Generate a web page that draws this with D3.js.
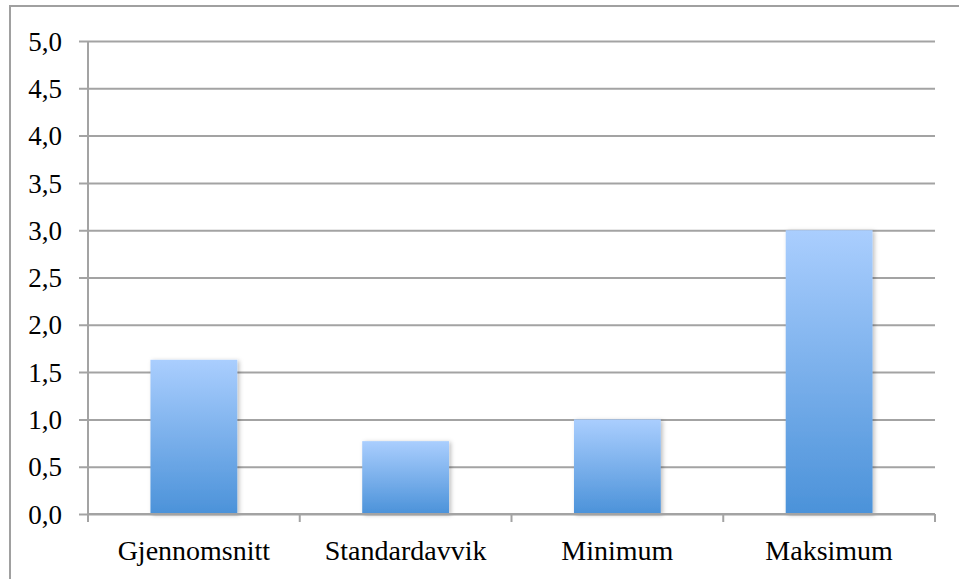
<!DOCTYPE html>
<html>
<head>
<meta charset="utf-8">
<script src="https://cdn.jsdelivr.net/npm/d3@7/dist/d3.min.js"></script>
<style>
  html, body { margin: 0; padding: 0; background: #fff; }
  svg { display: block; }
</style>
</head>
<body>
<svg id="chart" width="959" height="579"></svg>
<script>
// Summary statistics
const categories = ["Gjennomsnitt", "Standardavvik", "Minimum", "Maksimum"];
const values = [1.63, 0.77, 1.0, 3.0];
const yTicks = [0, 0.5, 1, 1.5, 2, 2.5, 3, 3.5, 4, 4.5, 5];

const W = 959, H = 579;
const plot = { left: 88, right: 935, top: 41, bottom: 514 };
const gridColor = "#a3a3a3";
const font = "'Liberation Serif', 'Times New Roman', serif";

const svg = d3.select("#chart");

// Outer frame
svg.append("rect")
  .attr("x", 10).attr("y", 6)
  .attr("width", W + 20).attr("height", H + 20)
  .attr("fill", "none").attr("stroke", "#a0a0a0").attr("stroke-width", 2);

const defs = svg.append("defs");
const grad = defs.append("linearGradient")
  .attr("id", "barGrad").attr("x1", 0).attr("y1", 0).attr("x2", 0).attr("y2", 1);
grad.append("stop").attr("offset", "0%").attr("stop-color", "#aacefe");
grad.append("stop").attr("offset", "100%").attr("stop-color", "#4b92d9");

const shadow = defs.append("filter").attr("id", "barShadow")
  .attr("x", "-20%").attr("y", "-20%").attr("width", "140%").attr("height", "140%");
shadow.append("feDropShadow")
  .attr("dx", 2).attr("dy", 1).attr("stdDeviation", 2)
  .attr("flood-color", "#000").attr("flood-opacity", 0.25);

const x = d3.scaleBand().domain(categories)
  .range([plot.left, plot.right]).paddingInner(0.59).paddingOuter(0.295);
const y = d3.scaleLinear().domain([0, 5]).range([plot.bottom, plot.top]);

// Horizontal gridlines with left tick stubs
const yAxis = d3.axisLeft(y).tickValues(yTicks)
  .tickSize(-(plot.right - plot.left)).tickPadding(0)
  .tickFormat(d => d3.format(".1f")(d).replace(".", ","));
const yg = svg.append("g").attr("transform", `translate(${plot.left},0)`).call(yAxis);
yg.select(".domain").remove();
yg.selectAll(".tick line")
  .attr("x1", -9).attr("x2", plot.right - plot.left)
  .attr("stroke", gridColor).attr("stroke-width", 2);
yg.selectAll(".tick text")
  .attr("x", -26).attr("dy", "0.34em")
  .style("font-family", font).style("font-size", "27px").attr("fill", "#000");

// Vertical axis line
svg.append("line")
  .attr("x1", plot.left).attr("x2", plot.left)
  .attr("y1", plot.top).attr("y2", plot.bottom + 8)
  .attr("stroke", gridColor).attr("stroke-width", 2);

// Bars
svg.append("g").selectAll("rect")
  .data(categories.map((c, i) => ({ c, v: values[i] })))
  .join("rect")
  .attr("x", d => x(d.c))
  .attr("width", x.bandwidth())
  .attr("y", d => y(d.v))
  .attr("height", d => y(0) - y(d.v))
  .attr("fill", "url(#barGrad)")
  .attr("filter", "url(#barShadow)");

// Category axis with boundary ticks
const xg = svg.append("g");
xg.append("line")
  .attr("x1", plot.left).attr("x2", plot.right)
  .attr("y1", plot.bottom).attr("y2", plot.bottom)
  .attr("stroke", gridColor).attr("stroke-width", 2);
const bounds = d3.range(categories.length + 1).map(i => plot.left + i * (plot.right - plot.left) / categories.length);
xg.selectAll("line.bt").data(bounds).join("line").attr("class", "bt")
  .attr("x1", d => d).attr("x2", d => d)
  .attr("y1", plot.bottom).attr("y2", plot.bottom + 8)
  .attr("stroke", gridColor).attr("stroke-width", 2);
xg.selectAll("text").data(categories).join("text")
  .attr("x", d => x(d) + x.bandwidth() / 2)
  .attr("y", 560)
  .attr("text-anchor", "middle")
  .style("font-family", font).style("font-size", "28px")
  .attr("fill", "#000")
  .text(d => d);
</script>
</body>
</html>
